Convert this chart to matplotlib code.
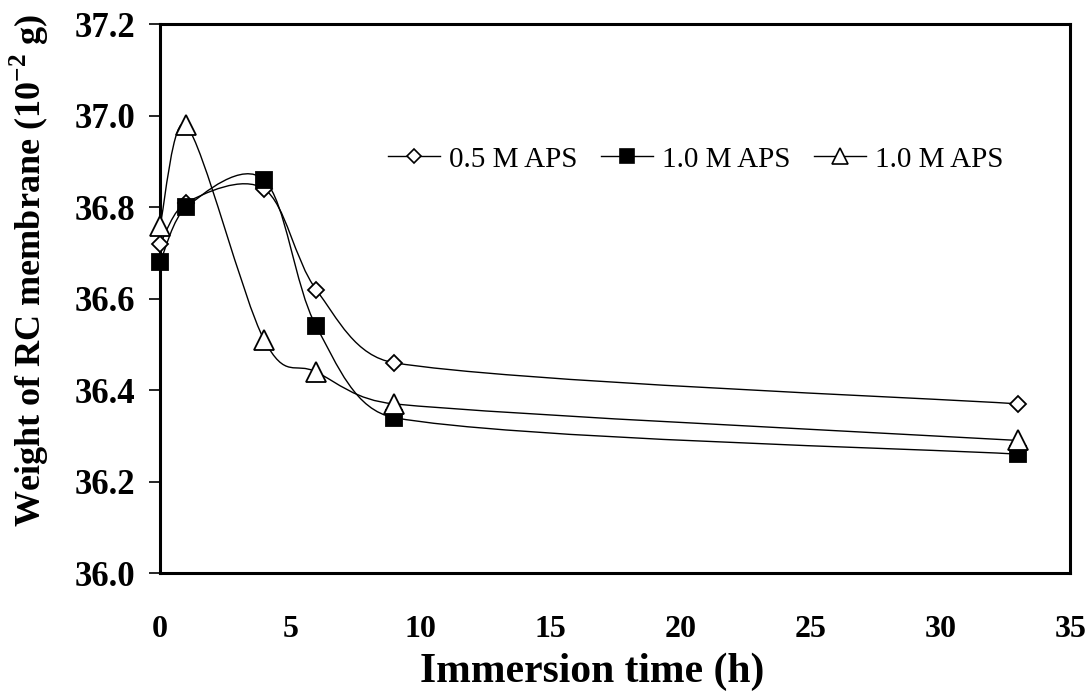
import numpy as np
import matplotlib
matplotlib.use("Agg")
import matplotlib.pyplot as plt
from matplotlib.path import Path
from matplotlib.patches import PathPatch
from matplotlib.lines import Line2D

plt.rcParams["font.family"] = ["Liberation Serif", "DejaVu Serif"]
plt.rcParams["mathtext.fontset"] = "custom"
plt.rcParams["mathtext.rm"] = "Liberation Serif"
plt.rcParams["mathtext.bf"] = "Liberation Serif:bold"

# immersion time (h)
time_h = [0, 1, 4, 6, 9, 33]
# weight of RC membrane (10^-2 g)
w_05 = [36.72, 36.81, 36.84, 36.62, 36.46, 36.37]
w_10a = [36.68, 36.80, 36.86, 36.54, 36.34, 36.26]
w_10b = [36.76, 36.98, 36.51, 36.44, 36.37, 36.29]

labels = ["0.5 M APS", "1.0 M APS", "1.0 M APS"]
x_ticks = [0, 5, 10, 15, 20, 25, 30, 35]
y_ticks = [36.0, 36.2, 36.4, 36.6, 36.8, 37.0, 37.2]


def smooth_path(x, y):
    # Excel-like smoothed line: Bezier segments, control arms limited in x
    p = np.column_stack([x, y]).astype(float)
    n = len(p)
    verts = [p[0]]
    codes = [Path.MOVETO]
    for i in range(n - 1):
        h = p[i + 1, 0] - p[i, 0]
        prev = p[i - 1] if i > 0 else p[i]
        nxt = p[i + 2] if i + 2 < n else p[i + 1]
        a1 = (p[i + 1] - prev) / 6.0
        a2 = (nxt - p[i]) / 6.0
        if a1[0] > 0.5 * h:
            a1 = a1 * (0.5 * h / a1[0])
        if a2[0] > 0.5 * h:
            a2 = a2 * (0.5 * h / a2[0])
        verts += [p[i] + a1, p[i + 1] - a2, p[i + 1]]
        codes += [Path.CURVE4] * 3
    return Path(verts, codes)


fig = plt.figure(figsize=(10.89, 6.98), dpi=100)
ax = fig.add_axes([0.147, 0.179, 0.836, 0.786])

styles = [
    dict(marker="D", ms=8.5, mfc="white"),
    dict(marker="s", ms=12, mfc="black"),
    dict(marker="^", ms=14, mfc="white"),
]

handles = []
for ys, st, lab in zip([w_05, w_10a, w_10b], styles, labels):
    ax.add_patch(PathPatch(smooth_path(time_h, ys), fill=False,
                           edgecolor="black", lw=1.0, zorder=2))
    ax.plot(time_h, ys, linestyle="none", marker=st["marker"], ms=st["ms"],
            mfc=st["mfc"], mec="black", mew=1.3, zorder=3, clip_on=False)
    handles.append(Line2D([], [], color="black", lw=1.0, marker=st["marker"],
                          ms=st["ms"] * 0.8, mfc=st["mfc"], mec="black",
                          mew=1.2, label=lab))

ax.set_xlim(0, 35)
ax.set_ylim(36.0, 37.2)
ax.set_xticks(x_ticks)
ax.set_yticks(y_ticks)
ax.set_yticklabels([f"{v:.1f}" for v in y_ticks])

ax.tick_params(axis="y", direction="out", length=8, width=1.2, pad=10,
               labelsize=25)
ax.tick_params(axis="x", length=0, pad=30, labelsize=23)
for lab in ax.get_xticklabels() + ax.get_yticklabels():
    lab.set_fontweight("bold")

for side in ["left", "bottom", "top", "right"]:
    ax.spines[side].set_linewidth(2.2)

ax.set_xlabel("Immersion time (h)", fontsize=30, fontweight="bold")
ax.xaxis.set_label_coords(0.475, -0.145)
ax.xaxis.label.set_va("top")
ax.set_ylabel(r"Weight of RC membrane (10$^{\mathbf{-2}}$ g)", fontsize=26,
              fontweight="bold")
ax.yaxis.set_label_coords(-0.12, 0.552)

ax.legend(handles=handles, loc="center", bbox_to_anchor=(0.588, 0.754),
          ncol=3, frameon=False, prop={"family": "Liberation Serif", "size": 21},
          handlelength=1.8, handletextpad=0.3, columnspacing=0.8)

fig.savefig("out.png", dpi=100)
